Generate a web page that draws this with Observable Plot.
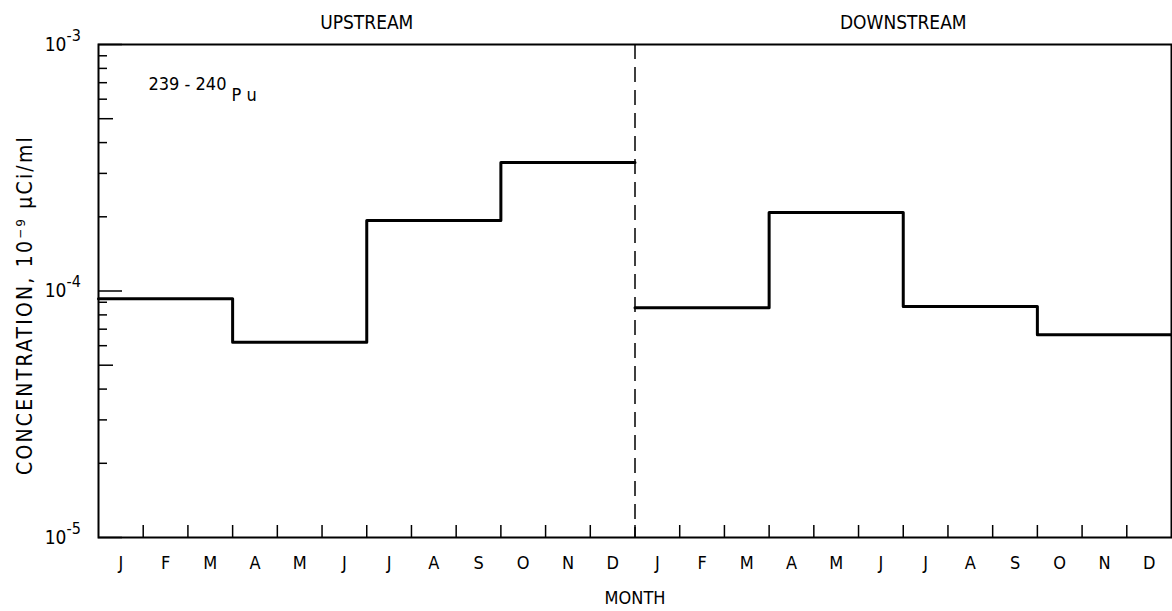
<!DOCTYPE html>
<html><head><meta charset="utf-8">
<script src="https://cdn.jsdelivr.net/npm/d3@7"></script>
<script src="https://cdn.jsdelivr.net/npm/@observablehq/plot@0.6"></script>
<style>
body{margin:0;background:#fff;}
#chart svg{display:block;}
</style></head><body><div id="chart"></div>
<script>
// ---- data ----
const panels = ["UPSTREAM", "DOWNSTREAM"];
const monthLetters = ["J","F","M","A","M","J","J","A","S","O","N","D"];
const quarterStartMonths = [0, 3, 6, 9];
const upstream = [9.3e-5, 6.2e-5, 1.93e-4, 3.32e-4];     // Jan-Mar, Apr-Jun, Jul-Sep, Oct-Dec
const downstream = [8.55e-5, 2.08e-4, 8.65e-5, 6.65e-5];
const majorTicks = [1e-5, 1e-4, 1e-3];
const minorMultipliers = [2, 3, 4, 6, 7, 8, 9];
const midMultipliers = [5];
const annotationMass = "239 - 240";
const annotationElement = "P u";
const yTitle = "CONCENTRATION, 10\u207B\u2079 \u00B5Ci/ml";
const xTitle = "MONTH";

// ---- derived tables ----
const monthsPerPanel = monthLetters.length;
const series = [upstream, downstream];
const stepData = [];
series.forEach((vals, p) => {
  vals.forEach((v, q) => stepData.push({panel: panels[p], x: p * monthsPerPanel + quarterStartMonths[q], v}));
  stepData.push({panel: panels[p], x: (p + 1) * monthsPerPanel, v: vals[vals.length - 1]});
});
const totalMonths = monthsPerPanel * panels.length;
const boundaries = d3.range(1, totalMonths);
const centers = d3.range(totalMonths).map(i => i + 0.5);
const decades = [1e-5, 1e-4];
const minors = decades.flatMap(d => minorMultipliers.map(m => m * d));
const mids = decades.flatMap(d => midMultipliers.map(m => m * d));

const font = "'DejaVu Sans Condensed','Liberation Sans Narrow','DejaVu Sans',sans-serif";

const chart = Plot.plot({
  width: 1172, height: 611,
  marginLeft: 98, marginRight: 1, marginTop: 44, marginBottom: 74,
  style: {fontFamily: font, color: "#000", background: "#fff", overflow: "visible"},
  x: {type: "linear", domain: [0, totalMonths]},
  y: {type: "log", domain: [1e-5, 1e-3]},
  marks: [
    Plot.ruleX([monthsPerPanel], {strokeDasharray: "15,8", strokeWidth: 1.5}),
    Plot.axisX({ticks: boundaries, tickSize: -12, tickFormat: () => "", strokeWidth: 1.5, label: null}),
    Plot.axisX({ticks: centers, tickSize: 0, tickPadding: 19, tickFormat: d => monthLetters[Math.floor(d) % monthsPerPanel], fontSize: 18, label: null}),
    Plot.axisY({ticks: majorTicks, tickSize: -24, tickFormat: () => "", strokeWidth: 1.5, label: null}),
    Plot.axisY({ticks: mids, tickSize: -15, tickFormat: () => "", strokeWidth: 1.5, label: null}),
    Plot.axisY({ticks: minors, tickSize: -9, tickFormat: () => "", strokeWidth: 1.5, label: null}),
    Plot.axisY({ticks: majorTicks, tickSize: 0, tickPadding: 32, tickFormat: () => "10", fontSize: 19, label: null}),
    Plot.text(majorTicks, {y: d => d, frameAnchor: "left", dx: -32, dy: -9, textAnchor: "start", lineAnchor: "middle", text: d => "-" + Math.round(-Math.log10(d)), fontSize: 16}),
    Plot.frame({strokeWidth: 2}),
    Plot.line(stepData, {x: "x", y: "v", z: "panel", curve: "step-after", strokeWidth: 3}),
    Plot.text(panels, {x: (d, i) => i * monthsPerPanel + monthsPerPanel / 2, frameAnchor: "top", lineAnchor: "middle", dy: -22, text: d => d, fontSize: 19}),
    Plot.text([xTitle], {x: () => monthsPerPanel, frameAnchor: "bottom", lineAnchor: "middle", dy: 61, text: d => d, fontSize: 18}),
    Plot.text([yTitle], {frameAnchor: "left", textAnchor: "middle", lineAnchor: "middle", rotate: -90, dx: -73, dy: 14, text: d => d, fontSize: 21}),
    Plot.text([annotationMass], {frameAnchor: "top-left", textAnchor: "start", lineAnchor: "middle", dx: 50, dy: 40, text: d => d, fontSize: 18}),
    Plot.text([annotationElement], {frameAnchor: "top-left", textAnchor: "start", lineAnchor: "middle", dx: 133, dy: 51, text: d => d, fontSize: 18})
  ]
});
// widen the rotated y title's letter spacing to match the typewriter-like original
d3.select(chart).selectAll("text").filter(function() { return this.textContent === yTitle; })
  .style("letter-spacing", "2.2px");
document.getElementById("chart").appendChild(chart);
</script></body></html>
